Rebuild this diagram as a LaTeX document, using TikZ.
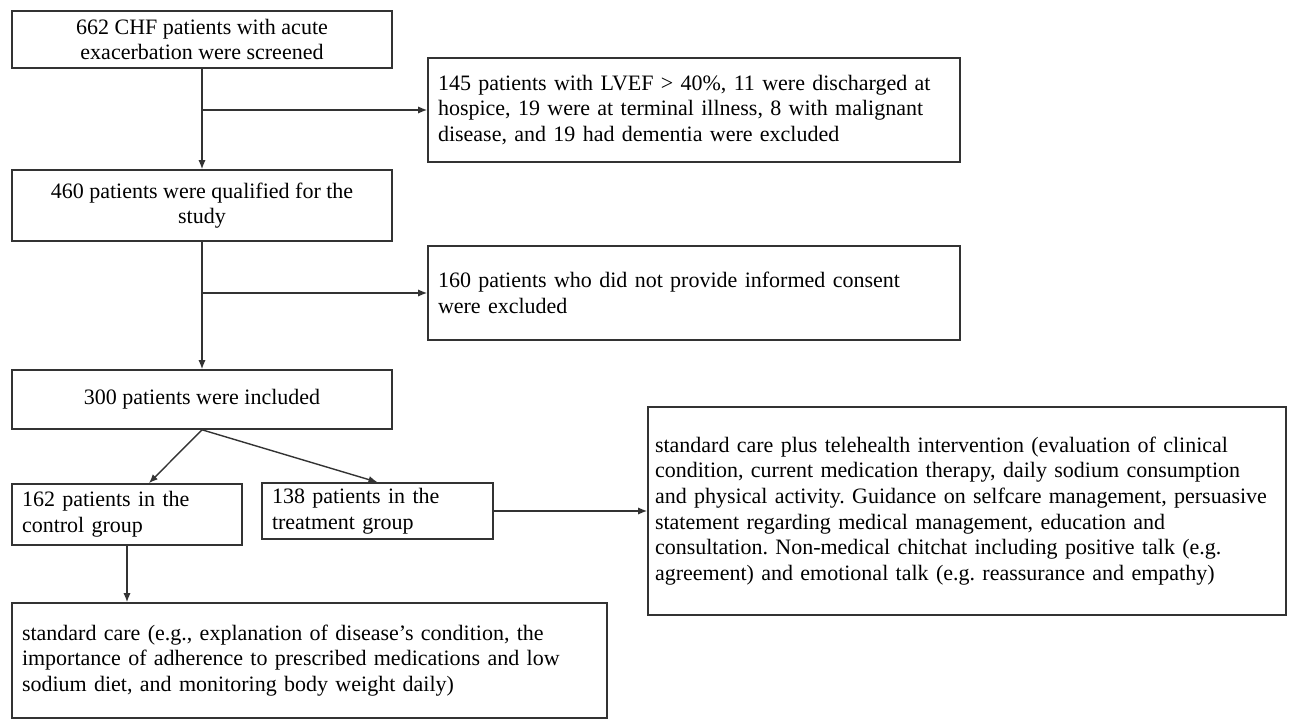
\documentclass[tikz,border=0pt]{standalone}
\usepackage{fontspec}
\setmainfont{Liberation Serif}
\usetikzlibrary{arrows.meta}
\hyphenpenalty=10000
\exhyphenpenalty=10000

\begin{document}
\begin{tikzpicture}[
  x=0.5pt, y=-0.5pt,
  every node/.style={font=\fontsize{11}{12.8}\selectfont\frenchspacing},
  box/.style={draw=black!80, line width=0.8pt, inner xsep=5pt, inner ysep=2pt},
  midbox/.style={box, align=center, minimum width=190pt},
  textbox/.style={box, align=left},
  arr/.style={-{Latex[length=4.5pt,width=3.6pt]}, line width=0.7pt, black!80}
]
  \useasboundingbox (0,0) rectangle (1291,721);

  \node[midbox, minimum height=28.5pt] (screen) at (202,39.5) {662 CHF patients with acute\\exacerbation were screened};
  \node[textbox, text width=256pt, minimum height=52pt] (exclA) at (694,110) {145 patients with LVEF > 40\%, 11 were discharged at\\hospice, 19 were at terminal illness, 8 with malignant\\disease, and 19 had dementia were excluded};
  \node[midbox, minimum height=35.5pt] (qualified) at (202,205.5) {460 patients were qualified for the\\study};
  \node[textbox, text width=256pt, minimum height=47pt] (exclB) at (694,293) {160 patients who did not provide informed consent\\were excluded};
  \node[midbox, minimum height=29.5pt] (included) at (202,399.5) {300 patients were included};

  \node[textbox, text width=105pt, minimum height=30.5pt] (control) at (127,514.5) {162 patients in the\\control group};
  \node[textbox, text width=105.5pt, minimum height=28pt] (treat) at (377.5,511) {138 patients in the\\treatment group};
  \node[textbox, inner xsep=3.5pt, text width=312pt, minimum height=104pt] (tele) at (967,511) {standard care plus telehealth intervention (evaluation of clinical\\condition, current medication therapy, daily sodium consumption\\and physical activity. Guidance on selfcare management, persuasive\\statement regarding medical management, education and\\consultation. Non-medical chitchat including positive talk (e.g.\\agreement) and emotional talk (e.g. reassurance and empathy)};
  \node[textbox, text width=287.5pt, minimum height=57.5pt] (stdcare) at (309.5,660.5) {standard care (e.g., explanation of disease’s condition, the\\importance of adherence to prescribed medications and low\\sodium diet, and monitoring body weight daily)};

  % exclusion branches
  \coordinate (splitA) at (screen.south |- exclA.west);
  \coordinate (splitB) at (qualified.south |- exclB.west);

  \draw[arr] (screen) -- (qualified);
  \draw[arr] (splitA) -- (exclA);
  \draw[arr] (qualified) -- (included);
  \draw[arr] (splitB) -- (exclB);
  \draw[arr] (included.south) -- (control.55);
  \draw[arr] (included.south) -- (treat.north);
  \draw[arr] (treat) -- (tele);
  \draw[arr] (control) -- (control |- stdcare.north);
\end{tikzpicture}
\end{document}
